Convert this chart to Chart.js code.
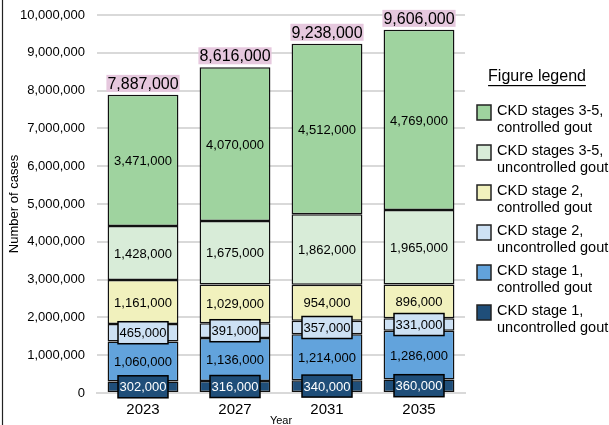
<!DOCTYPE html>
<html>
<head>
<meta charset="utf-8">
<script src="https://cdn.jsdelivr.net/npm/chart.js@4.4.1/dist/chart.umd.min.js"></script>
<style>
  html, body { margin: 0; padding: 0; background: #fff; }
  canvas { display: block; }
</style>
</head>
<body>
<canvas id="gout-chart" width="609" height="425"></canvas>
<script>
// Data (cases)
const years = ["2023", "2027", "2031", "2035"];
const stage1Uncontrolled = [302000, 316000, 340000, 360000];
const stage1Controlled = [1060000, 1136000, 1214000, 1286000];
const stage2Uncontrolled = [465000, 391000, 357000, 331000];
const stage2Controlled = [1161000, 1029000, 954000, 896000];
const stage35Uncontrolled = [1428000, 1675000, 1862000, 1965000];
const stage35Controlled = [3471000, 4070000, 4512000, 4769000];
const totals = [7887000, 8616000, 9238000, 9606000];

const seriesLabels = [
  ["CKD stage 1,", "uncontrolled gout"],
  ["CKD stage 1,", "controlled gout"],
  ["CKD stage 2,", "uncontrolled gout"],
  ["CKD stage 2,", "controlled gout"],
  ["CKD stages 3-5,", "uncontrolled gout"],
  ["CKD stages 3-5,", "controlled gout"],
];
const seriesValues = [
  stage1Uncontrolled, stage1Controlled, stage2Uncontrolled,
  stage2Controlled, stage35Uncontrolled, stage35Controlled,
];
const seriesColors = ["#1f4e79", "#62a3dc", "#cde1f4", "#f1f1bd", "#d8ecd8", "#9fd39f"];
// segments whose label sits in a framed box
const boxedSeries = { 0: "#fff", 2: "#000" };

const FONT = "'Liberation Sans', Arial, sans-serif";
const fmt = (v) => v.toLocaleString("en-US");

const labelPlugin = {
  id: "segmentLabels",
  afterDatasetsDraw(chart) {
    const ctx = chart.ctx;
    ctx.save();
    ctx.textAlign = "center";
    ctx.textBaseline = "middle";
    ctx.font = "13px " + FONT;

    chart.data.datasets.forEach((ds, i) => {
      const meta = chart.getDatasetMeta(i);
      meta.data.forEach((bar, j) => {
        const cy = (bar.y + bar.base) / 2;
        const text = fmt(ds.data[j]);
        if (boxedSeries[i] !== undefined) {
          const w = ctx.measureText(text).width + 3;
          const h = 22;
          ctx.fillStyle = seriesColors[i];
          ctx.fillRect(bar.x - w / 2, cy - h / 2, w, h);
          ctx.strokeStyle = "#000";
          ctx.lineWidth = 1.5;
          ctx.strokeRect(bar.x - w / 2, cy - h / 2, w, h);
          ctx.fillStyle = boxedSeries[i];
        } else {
          ctx.fillStyle = "#000";
        }
        ctx.fillText(text, bar.x, cy + 1);
      });
    });

    // totals above each stack
    const topMeta = chart.getDatasetMeta(chart.data.datasets.length - 1);
    ctx.font = "16px " + FONT;
    topMeta.data.forEach((bar, j) => {
      const text = fmt(totals[j]);
      const w = ctx.measureText(text).width + 2;
      const h = 17;
      const bottom = bar.y - 3;
      ctx.fillStyle = "#e6c8de";
      ctx.fillRect(bar.x - w / 2, bottom - h, w, h);
      ctx.fillStyle = "#000";
      ctx.fillText(text, bar.x, bottom - h / 2 + 1);
    });
    ctx.restore();
  },
  afterDraw(chart) {
    const ctx = chart.ctx;
    ctx.save();
    // frame line on the left edge
    ctx.strokeStyle = "#222";
    ctx.lineWidth = 1.2;
    ctx.beginPath();
    ctx.moveTo(2.5, 0);
    ctx.lineTo(2.5, chart.height);
    ctx.stroke();

    // legend
    ctx.fillStyle = "#000";
    ctx.textAlign = "center";
    ctx.textBaseline = "middle";
    ctx.font = "16px " + FONT;
    const title = "Figure legend";
    const tx = 537, ty = 77;
    ctx.fillText(title, tx, ty);
    const tw = ctx.measureText(title).width;
    ctx.fillRect(tx - tw / 2, ty + 8, tw, 1.2);

    ctx.textAlign = "left";
    ctx.font = "14.5px " + FONT;
    const n = chart.data.datasets.length;
    for (let k = 0; k < n; k++) {
      const i = n - 1 - k;
      const y = 111 + k * 40;
      ctx.fillStyle = seriesColors[i];
      ctx.fillRect(477, y - 6, 14, 15);
      ctx.strokeStyle = "#222";
      ctx.lineWidth = 1.5;
      ctx.strokeRect(477, y - 6, 14, 15);
      ctx.fillStyle = "#000";
      ctx.fillText(seriesLabels[i][0], 497, y);
      ctx.fillText(seriesLabels[i][1], 497, y + 17);
    }
    ctx.restore();
  },
};

const chart = new Chart(document.getElementById("gout-chart").getContext("2d"), {
  type: "bar",
  data: {
    labels: years,
    datasets: seriesValues.map((vals, i) => ({
      label: seriesLabels[i].join(" "),
      data: vals,
      backgroundColor: seriesColors[i],
      borderColor: "#111",
      borderWidth: 1.5,
      borderSkipped: false,
      categoryPercentage: 1,
      barPercentage: 0.77,
    })),
  },
  options: {
    responsive: false,
    animation: false,
    layout: { padding: { left: 0, right: 144, top: 15, bottom: 0 } },
    plugins: {
      legend: { display: false },
      tooltip: { enabled: false },
    },
    scales: {
      x: {
        stacked: true,
        grid: { display: false, drawTicks: false },
        border: { display: true, color: "#d9d9d9", width: 2 },
        ticks: { color: "#000", font: { family: FONT, size: 15 }, padding: 8 },
        title: {
          display: true,
          text: "Year",
          color: "#000",
          font: { family: FONT, size: 11 },
          padding: { top: 0, bottom: -3 },
        },
        afterFit: (s) => { s.height = 32; },
      },
      y: {
        stacked: true,
        min: 0,
        max: 10000000,
        grid: { color: "#d9d9d9", lineWidth: 2, drawTicks: false },
        border: { display: false },
        ticks: {
          stepSize: 1000000,
          color: "#000",
          font: { family: FONT, size: 13 },
          padding: 12,
          callback: (v) => fmt(v),
        },
        title: {
          display: true,
          text: "Number of cases",
          color: "#000",
          font: { family: FONT, size: 13 },
          padding: { top: 7, bottom: 0 },
        },
        afterFit: (s) => {
          s.width = 97;
          s.paddingTop = 0;
          s.paddingBottom = 0;
        },
      },
    },
  },
  plugins: [labelPlugin],
});
</script>
</body>
</html>
